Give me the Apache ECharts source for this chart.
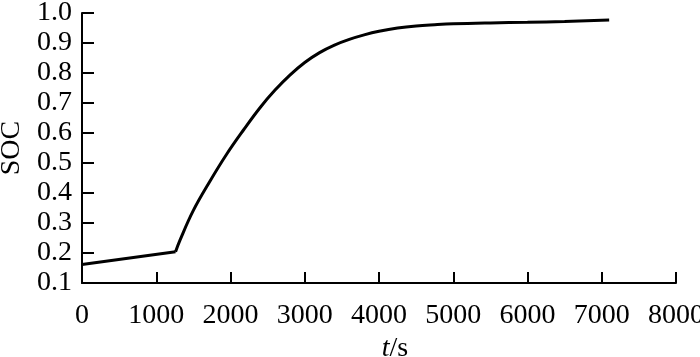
<!DOCTYPE html>
<html>
<head>
<meta charset="utf-8">
<script src="https://cdn.jsdelivr.net/npm/echarts@6/dist/echarts.min.js"></script>
<style>
  html, body { margin: 0; padding: 0; background: #fff; }
  #chart { width: 700px; height: 357px; }
</style>
</head>
<body>
<div id="chart"></div>
<script>
// time (s) and state of charge
var timeS = [1260, 1320, 1500, 1725, 1950, 2175, 2400, 2600, 2800, 3000, 3200, 3400, 3600, 3800, 4000, 4250, 4500, 4750, 5000, 5500, 6000, 6500, 7100];
var soc   = [0.204, 0.243, 0.342, 0.44, 0.53, 0.61, 0.685, 0.743, 0.793, 0.835, 0.868, 0.893, 0.912, 0.927, 0.939, 0.950, 0.957, 0.961, 0.964, 0.967, 0.969, 0.972, 0.977];
// straight rest phase before charging starts
var restTime = [0, 1260];
var restSoc  = [0.162, 0.204];

function pairs(xs, ys) {
  var out = [];
  for (var i = 0; i < xs.length; i++) out.push([xs[i], ys[i]]);
  return out;
}

var font = 'Liberation Serif';
var myChart = echarts.init(document.getElementById('chart'));
var option = {
  animation: false,
  grid: { left: 82, right: 24, top: 13, bottom: 74, outerBoundsMode: 'none', containLabel: false },
  xAxis: {
    type: 'value',
    min: 0, max: 8000, interval: 1000,
    name: '{i|t}/s',
    nameLocation: 'middle',
    nameGap: 50,
    nameTextStyle: {
      fontFamily: font, fontSize: 28, color: '#000',
      padding: [0, 0, 0, 32],
      rich: { i: { fontFamily: font, fontSize: 28, fontStyle: 'italic', color: '#000' } }
    },
    axisLine: { lineStyle: { color: '#000', width: 2 } },
    axisTick: { inside: true, length: 11, lineStyle: { color: '#000', width: 2 } },
    axisLabel: {
      fontFamily: font, fontSize: 28, color: '#000', margin: 19,
      formatter: function (v) { return String(v); }
    },
    splitLine: { show: false }
  },
  yAxis: {
    type: 'value',
    min: 0.1, max: 1.0, interval: 0.1,
    name: 'SOC',
    nameLocation: 'middle',
    nameGap: 56,
    nameTextStyle: { fontFamily: font, fontSize: 28, color: '#000' },
    axisLine: { show: true, lineStyle: { color: '#000', width: 2 } },
    axisTick: { show: true, inside: true, length: 12, lineStyle: { color: '#000', width: 2 } },
    axisLabel: {
      fontFamily: font, fontSize: 28, color: '#000', margin: 10,
      formatter: function (v) { return v.toFixed(1); }
    },
    splitLine: { show: false }
  },
  series: [{
    type: 'line',
    data: pairs(restTime, restSoc),
    showSymbol: false,
    lineStyle: { color: '#000', width: 3 }
  }, {
    type: 'line',
    data: pairs(timeS, soc),
    showSymbol: false,
    smooth: 0.4,
    lineStyle: { color: '#000', width: 3 }
  }]
};
myChart.setOption(option);
</script>
</body>
</html>
